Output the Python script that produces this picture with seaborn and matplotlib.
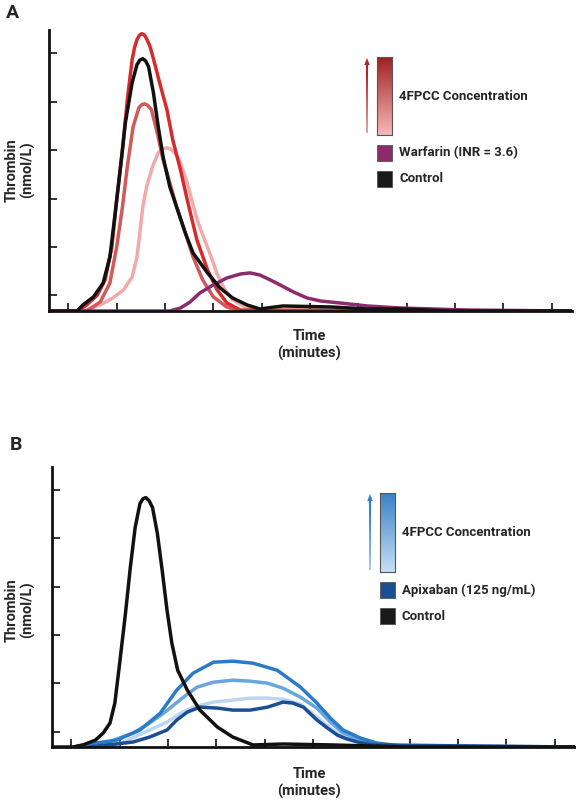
import numpy as np
import pandas as pd
import matplotlib
matplotlib.use("Agg")
import matplotlib.pyplot as plt
from matplotlib.colors import LinearSegmentedColormap
from matplotlib.patches import Polygon, Rectangle
import seaborn as sns

# Panel A: warfarin reversal curves (time in min, thrombin in nmol/L)
a_pink_t = [0, 3.5, 5.3, 6.6, 7.7, 8.6, 9.1, 9.4, 9.7, 10.1, 10.7, 11.3, 11.8, 12.2, 12.6, 13.1, 13.6, 14.3,
            14.9, 15.4, 15.9, 16.7, 17.4, 18.2, 19.0, 20.3, 21.8, 54.1]
a_pink_y = [0, 0, 6.2, 13.4, 21.7, 35.1, 55.8, 80.6, 107.4, 128.1, 148.8, 163.3, 167.5, 168.4, 167.0, 162.0,
            152.9, 132.2, 109.5, 91.9, 78.5, 57.8, 38.2, 21.7, 11.4, 4.1, 0, 0]
a_mid_t = [0, 3.9, 5.3, 6.3, 7.0, 7.6, 8.1, 8.7, 9.3, 9.6, 9.9, 10.25, 10.6, 11.2, 11.8, 12.5, 13.2, 14.1,
           14.9, 15.9, 17.0, 18.4, 19.8, 54.1]
a_mid_y = [0, 0, 9.3, 28.9, 66.1, 107.4, 148.8, 190.2, 209.8, 213.0, 213.8, 212.0, 207.7, 183.9, 156.0, 132.2,
           107.4, 80.6, 55.8, 32.0, 14.5, 4.1, 0, 0]
a_dark_t = [0, 2.9, 3.9, 5.0, 5.8, 6.5, 7.0, 7.6, 8.1, 8.6, 8.85, 9.1, 9.35, 9.6, 9.85, 10.1, 10.45, 10.8,
            11.5, 12.2, 12.8, 13.6, 14.3, 15.3, 16.4, 17.4, 18.4, 19.8, 54.1]
a_dark_y = [0, 0, 6.2, 16.5, 32.0, 66.1, 114.6, 166.3, 217.9, 259.3, 272.0, 280.0, 284.5, 286.2, 285.0, 281.0,
            273.0, 260.4, 233.5, 207.7, 176.7, 145.7, 114.7, 73.3, 42.4, 21.7, 8.3, 1.0, 0]
a_warf_t = [3.0, 12.5, 13.6, 14.6, 15.6, 17.0, 18.4, 19.8, 20.8, 21.8, 22.9, 23.9, 25.3, 26.7, 28.1,
            30.1, 32.9, 36.3, 39.7, 43.3, 54.1]
a_warf_y = [0, 0, 3.1, 9.3, 18.6, 26.9, 34.1, 38.2, 39.3, 37.2, 32.0, 26.9, 19.6, 13.4, 10.3,
            8.3, 5.2, 3.1, 2.1, 1.0, 0]
a_ctrl_t = [0, 2.9, 3.5, 4.6, 5.6, 6.3, 6.8, 7.4, 7.9, 8.6, 9.1, 9.4, 9.7, 10.0, 10.3, 10.8, 11.3, 11.8,
            12.5, 13.3, 14.1, 14.9, 16.4, 17.7, 19.0, 20.5, 21.8, 24.2, 29.4, 32.9, 36.3, 41.5, 54.1]
a_ctrl_y = [0, 0, 6.2, 14.5, 28.9, 55.8, 97.1, 148.8, 194.3, 235.6, 254.2, 259.0, 260.4, 258.0, 252.1, 225.3,
            190.2, 159.1, 128.1, 104.4, 80.6, 59.9, 39.3, 23.8, 13.4, 6.2, 2.1, 5.2, 4.1, 2.1, 2.1, 0, 0]

# Panel B: apixaban reversal curves
b_light_t = [2.2, 6.7, 10.1, 11.9, 13.3, 14.6, 16.7, 18.7, 20.5, 22.3, 23.9, 25.7, 27.4, 28.8,
             30.1, 31.9, 33.6, 54.1]
b_light_y = [0, 2.1, 17.6, 25.8, 35.1, 41.3, 46.5, 48.6, 50.6, 50.6, 49.6, 44.4, 31.0, 19.6,
             10.3, 5.2, 2.1, 0]
b_mid_t = [2.2, 5.0, 8.4, 10.1, 11.7, 13.6, 15.0, 16.7, 18.7, 20.5, 22.3, 23.9, 25.7, 27.4,
           28.8, 30.1, 31.6, 33.2, 35.0, 54.1]
b_mid_y = [0, 2.1, 14.5, 24.8, 36.2, 51.6, 62.0, 67.1, 69.2, 68.2, 66.1, 60.9, 51.6, 40.3,
           25.8, 14.5, 8.3, 4.1, 1.0, 0]
b_top_t = [2.2, 3.2, 6.7, 9.1, 11.2, 12.9, 14.6, 16.7, 18.7, 20.8, 23.3, 25.7, 27.4, 28.8,
           30.1, 31.9, 33.6, 35.3, 37.1, 54.1]
b_top_y = [0, 2.1, 7.2, 17.6, 35.1, 58.9, 76.5, 87.8, 88.9, 86.8, 79.5, 62.0, 45.5, 29.9,
           17.6, 9.3, 4.1, 2.1, 0, 0]
b_navy_t = [3.9, 8.4, 10.1, 11.9, 12.9, 14.0, 15.3, 17.1, 18.7, 20.5, 22.3, 23.9, 24.9, 26.0,
            27.4, 28.5, 29.5, 30.5, 31.6, 33.2, 54.1]
b_navy_y = [0, 5.2, 10.3, 17.6, 27.9, 36.2, 41.3, 40.3, 38.2, 38.2, 41.3, 46.5, 45.5, 41.3,
            28.0, 19.6, 12.4, 8.3, 5.2, 2.1, 0]
b_ctrl_t = [0, 2.2, 3.2, 4.5, 5.3, 6.0, 6.5, 7.0, 7.6, 8.1, 8.6, 9.1, 9.4, 9.7, 10.05, 10.4, 10.9, 11.4,
            11.9, 12.4, 13.0, 14.0, 15.3, 17.1, 18.7, 20.8, 23.9, 29.1, 36.7, 54.1]
b_ctrl_y = [0, 0, 2.1, 7.2, 14.5, 24.8, 45.5, 86.8, 138.4, 185.9, 227.3, 252.1, 257.0, 258.3, 255.0, 247.9,
            221.1, 182.8, 141.5, 107.4, 79.5, 58.9, 38.2, 20.7, 10.3, 2.1, 3.1, 2.1, 0, 0]

a_series = {"pink": (a_pink_t, a_pink_y), "mid": (a_mid_t, a_mid_y), "dark": (a_dark_t, a_dark_y),
            "warfarin": (a_warf_t, a_warf_y), "control": (a_ctrl_t, a_ctrl_y)}
a_colors = {"pink": "#F2A9A9", "mid": "#D05A5A", "dark": "#D42C2C", "warfarin": "#8C2B6E", "control": "#111111"}
b_series = {"light": (b_light_t, b_light_y), "mid": (b_mid_t, b_mid_y), "top": (b_top_t, b_top_y),
            "navy": (b_navy_t, b_navy_y), "control": (b_ctrl_t, b_ctrl_y)}
b_colors = {"light": "#B9D7F1", "mid": "#6AA6DE", "top": "#2B7BC8", "navy": "#1C4E92", "control": "#111111"}

x_ticks = [2, 7, 12, 17, 22, 27, 32, 37, 42, 47, 52]
y_ticks = [16, 66, 116, 166, 216, 266]

W, H = 576, 800
fig = plt.figure(figsize=(5.76, 8.0), dpi=100)
sns.set_style("white")
plt.rcParams["font.family"] = ["Roboto", "DejaVu Sans"]


def to_df(series):
    rows = []
    for name, (t, y) in series.items():
        rows += [{"series": name, "time": tt, "thrombin": yy} for tt, yy in zip(t, y)]
    return pd.DataFrame(rows)


def fx(px):
    return px / W


def fy(py):
    return 1 - py / H


def panel(rect, series, colors, label_y, time_y):
    ax = fig.add_axes(rect)
    sns.lineplot(data=to_df(series), x="time", y="thrombin", hue="series",
                 hue_order=list(series), palette=colors, estimator=None, sort=False,
                 linewidth=2.5, solid_joinstyle="round", legend=False, ax=ax)
    ax.set_xlim(0, 54.1)
    ax.set_ylim(0, 290)
    ax.set_xticks(x_ticks)
    ax.set_yticks(y_ticks)
    ax.set_xticklabels([])
    ax.set_yticklabels([])
    ax.tick_params(bottom=True, left=True, direction="in", length=6, width=1.2, color="#111111")
    sns.despine(ax=ax)
    for s in ["left", "bottom"]:
        ax.spines[s].set_linewidth(2)
        ax.spines[s].set_color("#111111")
    ax.set_xlabel("")
    ax.set_ylabel("")
    fig.text(fx(20), fy(label_y), "Thrombin\n(nmol/L)", rotation=90, ha="center", va="center",
             fontsize=10.5, fontweight="bold", linespacing=1.1)
    fig.text(fx(309), fy(time_y), "Time\n(minutes)", ha="center", va="center",
             fontsize=10.5, fontweight="bold", linespacing=1.25)
    return ax


def legend(x_bar, y_top, y_bot, grad, arrow_color, sq_color, sq_label, sq_y, ctrl_y):
    cax = fig.add_axes([fx(x_bar), fy(y_bot), fx(15), (y_bot - y_top) / H])
    cmap = LinearSegmentedColormap.from_list("g", grad)
    cax.imshow(np.linspace(0, 1, 256).reshape(-1, 1), aspect="auto", cmap=cmap, origin="lower")
    cax.set_xticks([])
    cax.set_yticks([])
    for s in cax.spines.values():
        s.set_color("#555555")
        s.set_linewidth(0.8)
    xa = x_bar - 10
    fig.add_artist(Polygon([(fx(xa - 0.4), fy(y_bot - 2)), (fx(xa + 0.4), fy(y_bot - 2)),
                            (fx(xa + 1.1), fy(y_top + 7)), (fx(xa - 1.1), fy(y_top + 7))],
                           closed=True, color=arrow_color, lw=0, transform=fig.transFigure))
    fig.add_artist(Polygon([(fx(xa - 2.8), fy(y_top + 8)), (fx(xa + 2.8), fy(y_top + 8)),
                            (fx(xa), fy(y_top + 1))],
                           closed=True, color=arrow_color, lw=0, transform=fig.transFigure))
    fig.text(fx(x_bar + 22), fy((y_top + y_bot) / 2), "4FPCC Concentration", ha="left", va="center",
             fontsize=9.5, fontweight="bold")
    for yy, c, lab in [(sq_y, sq_color, sq_label), (ctrl_y, "#1A1A1A", "Control")]:
        fig.add_artist(Rectangle((fx(x_bar), fy(yy + 8)), fx(15), 16 / H, facecolor=c,
                                 edgecolor="#444444", lw=0.5, transform=fig.transFigure))
        fig.text(fx(x_bar + 22), fy(yy), lab, ha="left", va="center", fontsize=9.5, fontweight="bold")


panel([fx(49), fy(311), 523 / W, 281 / H], a_series, a_colors, 170, 345)
panel([fx(52), fy(747), 523 / W, 280 / H], b_series, b_colors, 610, 783)

legend(377, 57, 135, ["#F6B9B9", "#A01E1E"], "#B3262B", "#8C2B6E", "Warfarin (INR = 3.6)", 153, 179)
legend(380, 493, 572, ["#C6DFF3", "#3A82C8"], "#2E7FD0", "#1C4E92", "Apixaban (125 ng/mL)", 590, 616)

fig.text(fx(12), fy(13), "A", ha="center", va="center", fontsize=14, fontweight="bold")
fig.text(fx(16), fy(445), "B", ha="center", va="center", fontsize=14, fontweight="bold")

fig.savefig("out.png", dpi=100)
